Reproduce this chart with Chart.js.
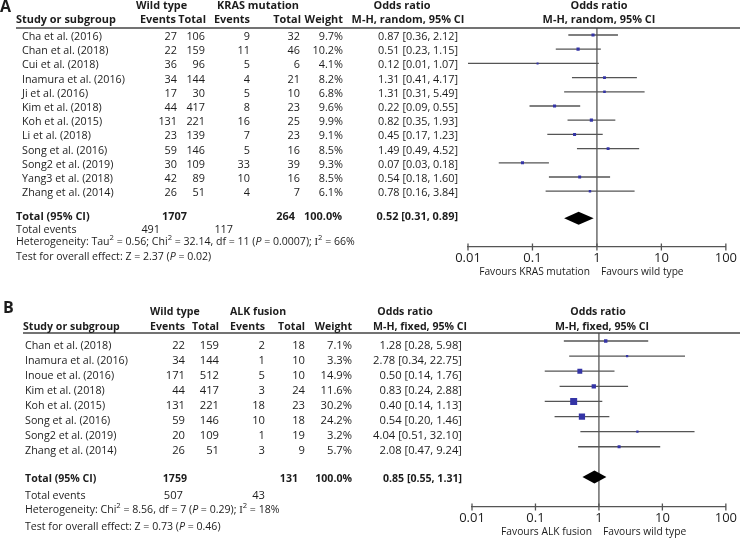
<!DOCTYPE html>
<html>
<head>
<meta charset="utf-8">
<script src="https://cdn.jsdelivr.net/npm/chart.js@4.4.1/dist/chart.umd.min.js"></script>
<style>
  html, body { margin: 0; padding: 0; background: #fff; }
  canvas { position: absolute; left: 0; }
  #chartA { top: 0; }
  #chartB { top: 280px; }
</style>
</head>
<body>
<canvas id="chartA" width="740" height="280"></canvas>
<canvas id="chartB" width="740" height="258"></canvas>
<script>
// ---- panel A: wild type vs KRAS mutation (random effects)
const studiesA = ["Cha et al. (2016)", "Chan et al. (2018)", "Cui et al. (2018)", "Inamura et al. (2016)",
  "Ji et al. (2016)", "Kim et al. (2018)", "Koh et al. (2015)", "Li et al. (2018)", "Song et al. (2016)",
  "Song2 et al. (2019)", "Yang3 et al. (2018)", "Zhang et al. (2014)"];
const wtEventsA = [27, 22, 36, 34, 17, 44, 131, 23, 59, 30, 42, 26];
const wtTotalA = [106, 159, 96, 144, 30, 417, 221, 139, 146, 109, 89, 51];
const krasEventsA = [9, 11, 5, 4, 5, 8, 16, 7, 5, 33, 10, 4];
const krasTotalA = [32, 46, 6, 21, 10, 23, 25, 23, 16, 39, 16, 7];
const weightA = [9.7, 10.2, 4.1, 8.2, 6.8, 9.6, 9.9, 9.1, 8.5, 9.3, 8.5, 6.1];
const orA = [0.87, 0.51, 0.12, 1.31, 1.31, 0.22, 0.82, 0.45, 1.49, 0.07, 0.54, 0.78];
const loA = [0.36, 0.23, 0.01, 0.41, 0.31, 0.09, 0.35, 0.17, 0.49, 0.03, 0.18, 0.16];
const hiA = [2.12, 1.15, 1.07, 4.17, 5.49, 0.55, 1.93, 1.23, 4.52, 0.18, 1.60, 3.84];
const pooledA = [0.52, 0.31, 0.89]; // OR, lower, upper

// ---- panel B: wild type vs ALK fusion (fixed effects)
const studiesB = ["Chan et al. (2018)", "Inamura et al. (2016)", "Inoue et al. (2016)", "Kim et al. (2018)",
  "Koh et al. (2015)", "Song et al. (2016)", "Song2 et al. (2019)", "Zhang et al. (2014)"];
const wtEventsB = [22, 34, 171, 44, 131, 59, 20, 26];
const wtTotalB = [159, 144, 512, 417, 221, 146, 109, 51];
const alkEventsB = [2, 1, 5, 3, 18, 10, 1, 3];
const alkTotalB = [18, 10, 10, 24, 23, 18, 19, 9];
const weightB = [7.1, 3.3, 14.9, 11.6, 30.2, 24.2, 3.2, 5.7];
const orB = [1.28, 2.78, 0.50, 0.83, 0.40, 0.54, 4.04, 2.08];
const loB = [0.28, 0.34, 0.14, 0.24, 0.14, 0.20, 0.51, 0.47];
const hiB = [5.98, 22.75, 1.76, 2.88, 1.13, 1.46, 32.10, 9.24];
const pooledB = [0.85, 0.55, 1.31];

const tickValues = [0.01, 0.1, 1, 10, 100];
const tickLabels = ["0.01", "0.1", "1", "10", "100"];

const FONT = '"Open Sans", "Noto Sans", sans-serif';
const INK = "#1c1c1c";
const LINE = "#555";
const BLUE = "#3434a6";

const sum = arr => arr.reduce((a, b) => a + b, 0);
const ciText = (o, l, h) => o.toFixed(2) + " [" + l.toFixed(2) + ", " + h.toFixed(2) + "]";

function fontFor(size, style) {
  if (style === "serif") return size + 'px "Liberation Serif", serif';
  return (style === "i" ? "italic " : "") + (style === "b" ? "bold " : "") + size + "px " + FONT;
}

function layoutRuns(ctx, runs, size) {
  return runs.map(([t, s]) => {
    const fs = s === "sup" ? size * 0.72 : size;
    ctx.font = fontFor(fs, s);
    return { t, s, fs, w: ctx.measureText(t).width };
  });
}

// draw a line made of styled pieces: [text, style] where style is "", "b", "i", "sup", "serif"
function drawRuns(ctx, runs, x, y, size, align) {
  const parts = layoutRuns(ctx, runs, size);
  const total = sum(parts.map(p => p.w));
  let cx = align === "right" ? x - total : align === "center" ? x - total / 2 : x;
  ctx.textAlign = "left";
  ctx.textBaseline = "middle";
  for (const p of parts) {
    ctx.font = fontFor(p.fs, p.s);
    ctx.fillText(p.t, cx, p.s === "sup" ? y - size * 0.38 : y);
    cx += p.w;
  }
}

// font size that makes a sample string as wide as it is in the reference
function fitSize(ctx, runs, width) {
  return 20 * width / sum(layoutRuns(ctx, runs, 20).map(p => p.w));
}

function forestPlugin(P, L) {
  let S = null;
  return {
    id: "forest",
    beforeDatasetsDraw(chart) {
      const { ctx, chartArea: a, scales: { x } } = chart;
      const x1 = x.getPixelForValue(1);
      ctx.save();
      ctx.strokeStyle = LINE;
      ctx.lineWidth = 1.3;
      ctx.beginPath();
      ctx.moveTo(x1, a.top);
      ctx.lineTo(x1, a.bottom);
      ctx.stroke();
      ctx.restore();
    },
    afterDraw(chart) {
      const { ctx, chartArea: a, scales: { x, y } } = chart;
      const C = L.cols;
      ctx.save();
      if (!S) {
        S = {};
        for (const k in L.fit) S[k] = fitSize(ctx, L.fit[k][0], L.fit[k][1]);
      }
      const txt = (str, px, py, cls, align) =>
        drawRuns(ctx, [[String(str), cls === "bold" ? "b" : ""]], px, py, S[cls], align);

      // rule under the header
      ctx.strokeStyle = "#444";
      ctx.lineWidth = 1.6;
      ctx.beginPath();
      ctx.moveTo(L.ruleX, a.top);
      ctx.lineTo(chart.width, a.top);
      ctx.stroke();

      // tick marks crossing the axis
      ctx.strokeStyle = LINE;
      ctx.lineWidth = 1.3;
      for (const v of tickValues) {
        const px = x.getPixelForValue(v);
        ctx.beginPath();
        ctx.moveTo(px, a.bottom - 3.5);
        ctx.lineTo(px, a.bottom + 3.5);
        ctx.stroke();
      }

      // pooled diamond
      const dy = y.getPixelForValue(L.totalRow);
      ctx.fillStyle = "#000";
      ctx.beginPath();
      ctx.moveTo(x.getPixelForValue(P.pooled[1]), dy);
      ctx.lineTo(x.getPixelForValue(P.pooled[0]), dy - 6.5);
      ctx.lineTo(x.getPixelForValue(P.pooled[2]), dy);
      ctx.lineTo(x.getPixelForValue(P.pooled[0]), dy + 6.5);
      ctx.closePath();
      ctx.fill();

      ctx.fillStyle = INK;
      // panel letter and headers
      drawRuns(ctx, [[L.letter, "b"]], L.letterX, L.letterY, 16, "left");
      txt("Wild type", L.groupX[0], L.hdr1Y, "bold", "left");
      txt(P.group, L.groupX[1], L.hdr1Y, "bold", "left");
      txt("Odds ratio", L.orHdrX[0], L.hdr1Y, "bold", "center");
      txt("Odds ratio", L.plotHdrX[0], L.hdr1Y, "bold", "center");
      txt("Study or subgroup", L.ruleX, L.hdr2Y, "bold", "left");
      txt("Events", L.hdrCols[0], L.hdr2Y, "bold", "right");
      txt("Total", L.hdrCols[1], L.hdr2Y, "bold", "right");
      txt("Events", L.hdrCols[2], L.hdr2Y, "bold", "right");
      txt("Total", L.hdrCols[3], L.hdr2Y, "bold", "right");
      txt("Weight", L.hdrCols[4], L.hdr2Y, "bold", "right");
      txt(P.method, L.orHdrX[1], L.hdr2Y, "bold", "center");
      txt(P.method, L.plotHdrX[1], L.hdr2Y, "bold", "center");

      // study rows
      P.studies.forEach((name, i) => {
        const ty = y.getPixelForValue(i) + L.dy;
        txt(name, C.name, ty, "name", "left");
        txt(P.wtEv[i], C.wtEv, ty, "num", "right");
        txt(P.wtTot[i], C.wtTot, ty, "num", "right");
        txt(P.grpEv[i], C.grpEv, ty, "num", "right");
        txt(P.grpTot[i], C.grpTot, ty, "num", "right");
        txt(P.weight[i].toFixed(1) + "%", C.weight, ty, "num", "right");
        txt(ciText(P.or[i], P.lo[i], P.hi[i]), C.or, ty, "num", "right");
      });

      // totals
      let ty = y.getPixelForValue(L.totalTextRow);
      txt("Total (95% CI)", L.footX, ty, "bold", "left");
      txt(sum(P.wtTot), L.totCols[0], ty, "bold", "right");
      txt(sum(P.grpTot), L.totCols[1], ty, "bold", "right");
      txt("100.0%", L.totCols[2], ty, "bold", "right");
      txt(ciText(...P.pooled), C.or, ty, "bold", "right");
      ty = y.getPixelForValue(L.eventsRow);
      txt("Total events", L.footX, ty, "name", "left");
      txt(sum(P.wtEv), L.evCols[0], ty, "num", "right");
      txt(sum(P.grpEv), L.evCols[1], ty, "num", "right");
      drawRuns(ctx, P.het, L.footX, y.getPixelForValue(L.hetRow), S.foot, "left");
      drawRuns(ctx, P.test, L.footX, y.getPixelForValue(L.testRow), S.foot, "left");

      // favours labels
      const x1 = x.getPixelForValue(1);
      txt(P.favours[0], x1 - 7, a.bottom + 25, "fav", "right");
      txt(P.favours[1], x1 + 4, a.bottom + 25, "fav", "left");
      ctx.restore();
    }
  };
}

function buildPanel(id, P, L) {
  const rows = P.studies.map((_, i) => i);
  const ciSets = rows.map(i => ({
    type: "line",
    data: [{ x: P.lo[i], y: i }, { x: P.hi[i], y: i }],
    borderColor: LINE,
    borderWidth: 1.3,
    pointRadius: 0,
    order: 2
  }));
  const pointSet = {
    type: "scatter",
    data: rows.map(i => ({ x: P.or[i], y: i })),
    pointStyle: "rect",
    pointRadius: rows.map(i => L.markerK * Math.sqrt(P.weight[i]) / Math.SQRT2),
    backgroundColor: BLUE,
    borderWidth: 0,
    order: 0
  };
  new Chart(document.getElementById(id), {
    type: "scatter",
    data: { datasets: [pointSet, ...ciSets] },
    options: {
      responsive: false,
      animation: false,
      events: [],
      layout: { padding: { left: L.left, right: L.right, top: L.top, bottom: 0 } },
      plugins: { legend: { display: false }, tooltip: { enabled: false } },
      scales: {
        x: {
          type: "logarithmic",
          min: tickValues[0],
          max: tickValues[tickValues.length - 1],
          afterBuildTicks: s => { s.ticks = tickValues.map(v => ({ value: v })); },
          afterFit: s => { s.height = L.axisH; },
          grid: { display: false, drawTicks: false },
          border: { color: LINE, width: 1.3 },
          ticks: {
            autoSkip: false, maxRotation: 0, padding: 3, color: INK,
            font: { family: FONT, size: 13 },
            callback: (v, i) => tickLabels[i]
          }
        },
        y: { type: "linear", display: false, reverse: true, min: L.rowMin, max: L.rowMax }
      }
    },
    plugins: [forestPlugin(P, L)]
  });
}

const hetA = [["Heterogeneity: Tau", ""], ["2", "sup"], [" = 0.56; Chi", ""], ["2", "sup"],
  [" = 32.14, df = 11 (", ""], ["P", "i"], [" = 0.0007); ", ""], ["I", "serif"], ["2", "sup"], [" = 66%", ""]];
const hetB = [["Heterogeneity: Chi", ""], ["2", "sup"], [" = 8.56, df = 7 (", ""], ["P", "i"],
  [" = 0.29); ", ""], ["I", "serif"], ["2", "sup"], [" = 18%", ""]];

buildPanel("chartA", {
  studies: studiesA, wtEv: wtEventsA, wtTot: wtTotalA, grpEv: krasEventsA, grpTot: krasTotalA,
  weight: weightA, or: orA, lo: loA, hi: hiA, pooled: pooledA,
  group: "KRAS mutation", method: "M-H, random, 95% CI",
  favours: ["Favours KRAS mutation", "Favours wild type"],
  het: hetA,
  test: [["Test for overall effect: Z = 2.37 (", ""], ["P", "i"], [" = 0.02)", ""]]
}, {
  letter: "A", letterX: 0, letterY: 7,
  left: 468, right: 10, top: 28, axisH: 33,
  rowMin: -0.493, rowMax: 14.93, totalRow: 12.9,
  dy: 2, markerK: 1.0,
  fit: {
    name: [[["Inamura et al. (2016)", ""]], 103],
    num: [[["0.87 [0.36, 2.12]", ""]], 80],
    bold: [[["Study or subgroup", "b"]], 100],
    foot: [hetA, 339],
    fav: [[["Favours KRAS mutation", ""]], 111]
  },
  hdr1Y: 6, hdr2Y: 20, ruleX: 16, footX: 16,
  groupX: [136, 217], orHdrX: [402, 408], plotHdrX: [599, 599],
  hdrCols: [176, 206, 250, 301, 343],
  cols: { name: 22, wtEv: 177, wtTot: 205, grpEv: 250, grpTot: 300, weight: 343, or: 458 },
  totCols: [187, 295, 342], evCols: [160, 233],
  totalTextRow: 12.82, eventsRow: 13.73, hetRow: 14.58, testRow: 15.63
});

buildPanel("chartB", {
  studies: studiesB, wtEv: wtEventsB, wtTot: wtTotalB, grpEv: alkEventsB, grpTot: alkTotalB,
  weight: weightB, or: orB, lo: loB, hi: hiB, pooled: pooledB,
  group: "ALK fusion", method: "M-H, fixed, 95% CI",
  favours: ["Favours ALK fusion", "Favours wild type"],
  het: hetB,
  test: [["Test for overall effect: Z = 0.73 (", ""], ["P", "i"], [" = 0.46)", ""]]
}, {
  letter: "B", letterX: 3, letterY: 28,
  left: 472, right: 14, top: 53, axisH: 31,
  rowMin: -0.53, rowMax: 10.99, totalRow: 9.0,
  dy: 4.5, markerK: 1.27,
  fit: {
    name: [[["Inamura et al. (2016)", ""]], 103],
    num: [[["2.78 [0.34, 22.75]", ""]], 89],
    bold: [[["Study or subgroup", "b"]], 97],
    foot: [hetB, 255],
    fav: [[["Favours ALK fusion", ""]], 91]
  },
  hdr1Y: 32, hdr2Y: 47, ruleX: 23, footX: 25,
  groupX: [150, 230], orHdrX: [405, 420], plotHdrX: [598, 602],
  hdrCols: [185, 219, 265, 305, 352],
  cols: { name: 25, wtEv: 185, wtTot: 219, grpEv: 265, grpTot: 305, weight: 352, or: 462 },
  totCols: [187, 298, 352], evCols: [183, 265],
  totalTextRow: 9.14, eventsRow: 10.27, hetRow: 11.2, testRow: 12.32
});
</script>
</body>
</html>
